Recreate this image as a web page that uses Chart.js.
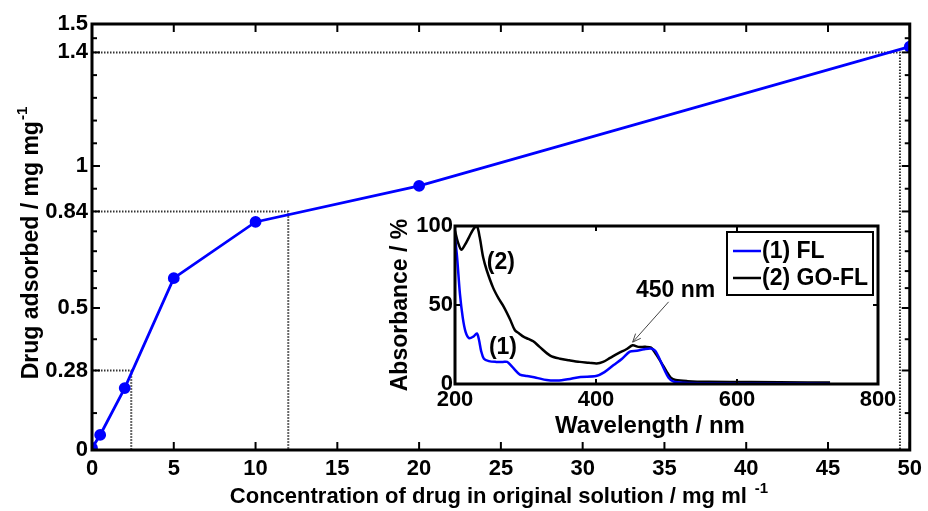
<!DOCTYPE html>
<html>
<head>
<meta charset="utf-8">
<title>Drug adsorption</title>
<script src="https://cdn.jsdelivr.net/npm/chart.js@4.4.1/dist/chart.umd.min.js"></script>
<style>
  body { margin: 0; background: #fff; }
  #wrap { position: relative; width: 928px; height: 511px; }
  #mainChart { position: absolute; left: 0; top: 0; }
  #insetChart { position: absolute; left: 380px; top: 195px; }
</style>
</head>
<body>
<div id="wrap">
  <canvas id="mainChart" width="928" height="511"></canvas>
  <canvas id="insetChart" width="530" height="250"></canvas>
</div>
<script>
// adsorption isotherm
const concentration = [0, 0.5, 2, 5, 10, 20, 50];
const adsorbed = [0.007, 0.053, 0.218, 0.605, 0.803, 0.93, 1.42];
const yTickLabels = [0, 0.28, 0.5, 0.84, 1, 1.4, 1.5];
const yMinorTicks = [0.13, 0.39, 0.57, 0.63, 0.70, 0.77, 0.92, 1.08, 1.16, 1.24, 1.32, 1.45];
// dotted read-off lines: level on y, where it meets the curve on x
const guideY = [0.28, 0.84, 1.4];
const guideX = [2.4, 12, 49.4];

// UV-vis spectra for the inset
const flWavelength = [200, 203, 207, 211, 215, 220, 226, 231, 234, 237, 241, 248, 258, 268, 274, 279, 285, 292, 302, 315, 330, 345, 360, 378, 400, 412, 425, 437, 448, 458, 468, 478, 484, 490, 497, 503, 510, 525, 560, 650, 732];
const flAbsorbance = [93, 80, 57, 42, 33, 29, 30, 32, 28, 21, 16, 14.5, 14, 14, 14, 12, 9, 6, 5, 4, 2.5, 2.2, 3, 4.5, 5, 7.5, 12, 16, 20.5, 21, 22, 22.5, 21, 16, 9, 4, 1.5, 0.8, 0.5, 0.3, 0.2];
const goWavelength = [200, 204, 209, 214, 220, 226, 231, 235, 240, 245, 254, 262, 269, 278, 285, 291, 297, 304, 311, 320, 335, 349, 362, 377, 390, 401, 410, 420, 432, 443, 452, 460, 470, 478, 485, 492, 500, 506, 513, 530, 560, 620, 700, 732];
const goAbsorbance = [97, 90, 85, 88, 93, 98, 100, 93, 80, 72, 61, 54, 49, 41, 34, 32, 30, 28.5, 27, 23.5, 18, 16, 15, 14, 13.5, 13, 14, 16.5, 19.5, 22, 24.5, 23.5, 23.5, 23, 19, 14, 8, 4, 2.5, 1.8, 1.4, 1.2, 1, 1];
const insetXTicks = [200, 400, 600, 800];
const insetYTicks = [0, 50, 100];

// curve labels and the arrow pointing at the 450 nm band
const curveNotes = [
  { text: '(2)', x: 265, y: 77 },
  { text: '(1)', x: 268, y: 23 }
];
const peakNote = { text: '450 nm', x: 513, y: 59 };
const arrowFrom = { x: 503, y: 52 };
const arrowTo = { x: 452, y: 26.5 };

const FONT = "'Liberation Sans', Arial, Helvetica, sans-serif";
Chart.defaults.font.family = FONT;
Chart.defaults.color = '#000';

const toPoints = (xs, ys) => xs.map((x, i) => ({ x: x, y: ys[i] }));

// ticks pointing into the plot on all four sides, plus the closed box
const inwardTicks = {
  id: 'inwardTicks',
  afterDraw(chart, args, opts) {
    const { ctx, chartArea: a, scales } = chart;
    const xs = scales.x, ys = scales.y;
    ctx.save();
    ctx.strokeStyle = '#000';
    ctx.lineWidth = opts.tickWidth;
    const mark = (x1, y1, x2, y2) => {
      ctx.beginPath(); ctx.moveTo(x1, y1); ctx.lineTo(x2, y2); ctx.stroke();
    };
    xs.ticks.forEach(t => {
      const px = xs.getPixelForValue(t.value);
      mark(px, a.bottom, px, a.bottom - opts.major);
      mark(px, a.top, px, a.top + opts.major);
    });
    ys.ticks.forEach(t => {
      const py = ys.getPixelForValue(t.value);
      mark(a.left, py, a.left + opts.major, py);
      mark(a.right, py, a.right - opts.major, py);
    });
    (opts.minorY || []).forEach(v => {
      const py = ys.getPixelForValue(v);
      mark(a.left, py, a.left + opts.minor, py);
      mark(a.right, py, a.right - opts.minor, py);
    });
    ctx.lineWidth = opts.boxWidth;
    ctx.strokeRect(a.left, a.top, a.right - a.left, a.bottom - a.top);
    ctx.restore();
  }
};

// axis titles with a superscript tail
function drawTitle(ctx, t) {
  ctx.save();
  ctx.fillStyle = '#000';
  ctx.textBaseline = 'alphabetic';
  ctx.textAlign = 'left';
  ctx.font = 'bold ' + t.size + 'px ' + FONT;
  const w = ctx.measureText(t.text).width;
  let ws = 0;
  if (t.sup) {
    ctx.font = 'bold ' + t.supSize + 'px ' + FONT;
    ws = ctx.measureText(t.sup).width + t.supGap;
  }
  ctx.translate(t.x, t.y);
  if (t.rotate) ctx.rotate(-Math.PI / 2);
  const start = -(w + ws) / 2;
  ctx.font = 'bold ' + t.size + 'px ' + FONT;
  ctx.fillText(t.text, start, 0);
  if (t.sup) {
    ctx.font = 'bold ' + t.supSize + 'px ' + FONT;
    ctx.fillText(t.sup, start + w + t.supGap, -t.supRaise);
  }
  ctx.restore();
}

const axisTitles = {
  id: 'axisTitles',
  afterDraw(chart, args, opts) {
    (opts.items || []).forEach(t => drawTitle(chart.ctx, t));
  }
};

// inset legend with a framed box in the upper right corner
const boxLegend = {
  id: 'boxLegend',
  afterDraw(chart, args, opts) {
    const { ctx, chartArea: a } = chart;
    const right = a.right - 5, top = a.top + 6;
    const left = right - opts.width;
    ctx.save();
    ctx.fillStyle = '#fff';
    ctx.fillRect(left, top, opts.width, opts.height);
    ctx.strokeStyle = '#000';
    ctx.lineWidth = 2;
    ctx.strokeRect(left, top, opts.width, opts.height);
    ctx.font = 'bold ' + opts.size + 'px ' + FONT;
    ctx.textBaseline = 'middle';
    ctx.textAlign = 'left';
    chart.data.datasets.forEach((ds, i) => {
      const y = top + 19 + i * 27;
      ctx.strokeStyle = ds.borderColor;
      ctx.lineWidth = 2.5;
      ctx.beginPath(); ctx.moveTo(left + 6, y); ctx.lineTo(left + 34, y); ctx.stroke();
      ctx.fillStyle = '#000';
      ctx.fillText(ds.label, left + 35, y + 1);
    });
    ctx.restore();
  }
};

// curve numbers and the arrow to the 450 nm shoulder
const insetNotes = {
  id: 'insetNotes',
  afterDatasetsDraw(chart, args, opts) {
    const { ctx, scales: { x, y } } = chart;
    ctx.save();
    ctx.fillStyle = '#000';
    ctx.font = 'bold ' + opts.size + 'px ' + FONT;
    ctx.textAlign = 'center';
    ctx.textBaseline = 'middle';
    curveNotes.forEach(n => ctx.fillText(n.text, x.getPixelForValue(n.x), y.getPixelForValue(n.y)));
    ctx.fillText(peakNote.text, x.getPixelForValue(peakNote.x), y.getPixelForValue(peakNote.y));
    const x1 = x.getPixelForValue(arrowFrom.x), y1 = y.getPixelForValue(arrowFrom.y);
    const x2 = x.getPixelForValue(arrowTo.x), y2 = y.getPixelForValue(arrowTo.y);
    ctx.strokeStyle = '#444';
    ctx.lineWidth = 1;
    ctx.beginPath(); ctx.moveTo(x1, y1); ctx.lineTo(x2, y2); ctx.stroke();
    const ang = Math.atan2(y2 - y1, x2 - x1);
    ctx.beginPath();
    ctx.moveTo(x2 - 9 * Math.cos(ang - 0.4), y2 - 9 * Math.sin(ang - 0.4));
    ctx.lineTo(x2, y2);
    ctx.lineTo(x2 - 9 * Math.cos(ang + 0.4), y2 - 9 * Math.sin(ang + 0.4));
    ctx.stroke();
    ctx.restore();
  }
};

const tickFont = { size: 22, weight: 'bold' };

new Chart(document.getElementById('mainChart'), {
  type: 'line',
  data: {
    datasets: [
      {
        label: 'Drug adsorbed',
        data: toPoints(concentration, adsorbed),
        borderColor: '#0000ff',
        backgroundColor: '#0000ff',
        borderWidth: 2.8,
        pointRadius: 4.5,
        pointHoverRadius: 4.5,
        tension: 0,
        order: 0
      },
      ...guideY.map((gy, i) => ({
        label: 'guide ' + gy,
        data: [{ x: 0, y: gy }, { x: guideX[i], y: gy }, { x: guideX[i], y: 0 }],
        borderColor: '#333',
        borderWidth: 2,
        borderDash: [1.5, 1.5],
        pointRadius: 0,
        tension: 0,
        order: 1
      }))
    ]
  },
  options: {
    responsive: false,
    animation: false,
    devicePixelRatio: 1,
    layout: { padding: { top: 24, right: 16, left: 0, bottom: 0 } },
    plugins: {
      legend: { display: false },
      tooltip: { enabled: false },
      inwardTicks: { major: 8, minor: 5, tickWidth: 2, boxWidth: 3, minorY: yMinorTicks },
      axisTitles: {
        items: [
          { text: 'Concentration of drug in original solution / mg ml', sup: '-1', x: 499, y: 503, size: 22, supSize: 15, supGap: 8, supRaise: 10 },
          { text: 'Drug adsorbed / mg mg', sup: '-1', x: 38, y: 243, size: 23, supSize: 15, supGap: 1, supRaise: 11, rotate: true }
        ]
      }
    },
    scales: {
      x: {
        type: 'linear', min: 0, max: 50,
        grid: { display: false, drawTicks: false },
        border: { display: false },
        ticks: { stepSize: 5, font: tickFont, padding: 6, maxRotation: 0 },
        afterFit: s => { s.height = 61; }
      },
      y: {
        type: 'linear', min: 0, max: 1.5,
        grid: { display: false, drawTicks: false },
        border: { display: false },
        afterBuildTicks: s => { s.ticks = yTickLabels.map(v => ({ value: v })); },
        ticks: { font: tickFont, padding: 4, callback: v => String(v) },
        afterFit: s => { s.width = 92; }
      }
    }
  },
  plugins: [inwardTicks, axisTitles]
});

new Chart(document.getElementById('insetChart'), {
  type: 'line',
  data: {
    datasets: [
      {
        label: '(1) FL',
        data: toPoints(flWavelength, flAbsorbance),
        borderColor: '#0000ff',
        borderWidth: 2.5,
        pointRadius: 0,
        tension: 0.3
      },
      {
        label: '(2) GO-FL',
        data: toPoints(goWavelength, goAbsorbance),
        borderColor: '#000',
        borderWidth: 2.5,
        pointRadius: 0,
        tension: 0.3
      }
    ]
  },
  options: {
    responsive: false,
    animation: false,
    devicePixelRatio: 1,
    layout: { padding: { top: 31, right: 32, left: 0, bottom: 0 } },
    plugins: {
      legend: { display: false },
      tooltip: { enabled: false },
      inwardTicks: { major: 5, minor: 0, tickWidth: 2, boxWidth: 3 },
      boxLegend: { width: 146, height: 63, size: 23 },
      insetNotes: { size: 23 },
      axisTitles: {
        items: [
          { text: 'Wavelength / nm', x: 270, y: 238, size: 24 },
          { text: 'Absorbance / %', x: 27, y: 110, size: 23, rotate: true }
        ]
      }
    },
    scales: {
      x: {
        type: 'linear', min: 200, max: 800,
        grid: { display: false, drawTicks: false },
        border: { display: false },
        afterBuildTicks: s => { s.ticks = insetXTicks.map(v => ({ value: v })); },
        ticks: { font: tickFont, padding: 3, maxRotation: 0 },
        afterFit: s => { s.height = 61; }
      },
      y: {
        type: 'linear', min: 0, max: 100,
        grid: { display: false, drawTicks: false },
        border: { display: false },
        afterBuildTicks: s => { s.ticks = insetYTicks.map(v => ({ value: v })); },
        ticks: { font: tickFont, padding: 2 },
        afterFit: s => { s.width = 75; }
      }
    }
  },
  plugins: [inwardTicks, axisTitles, boxLegend, insetNotes]
});
</script>
</body>
</html>
